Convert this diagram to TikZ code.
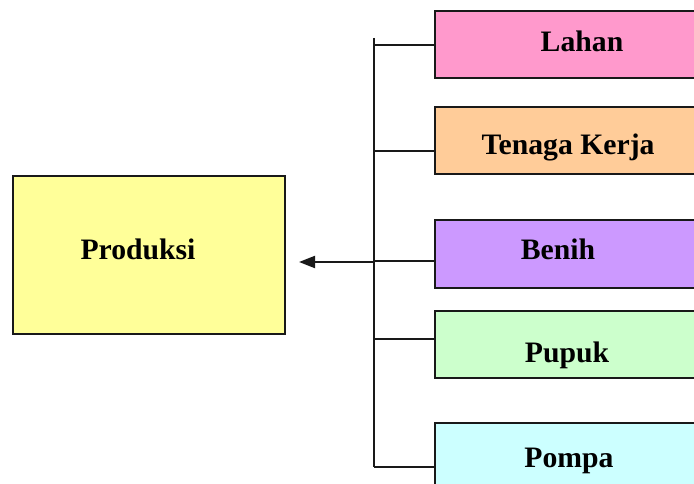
\documentclass[tikz,border=0pt]{standalone}
\usepackage{fontspec}
\setmainfont{Liberation Serif}
\usetikzlibrary{arrows.meta,calc}
\definecolor{cLahan}{HTML}{FF99CC}
\definecolor{cTenaga}{HTML}{FFCC99}
\definecolor{cBenih}{HTML}{CC99FF}
\definecolor{cPupuk}{HTML}{CCFFCC}
\definecolor{cPompa}{HTML}{CCFFFF}
\definecolor{cProd}{HTML}{FFFF99}
\tikzset{
  box/.style={draw=black!90, line width=2pt, rectangle, anchor=north west, inner sep=0pt},
  lbl/.style={anchor=base, inner sep=0pt, font=\fontsize{29.7}{34}\selectfont\bfseries},
  conn/.style={draw=black!90, line width=2pt},
}
\begin{document}
\begin{tikzpicture}[x=1pt,y=-1pt]
\useasboundingbox (0,0) rectangle (694,484);
\clip (0,0) rectangle (694,484);
\fill[white] (0,0) rectangle (694,484);
% boxes
\node[box, fill=cProd, minimum width=272pt, minimum height=158pt] (prod) at (12,175) {};
\node[box, fill=cLahan, minimum width=300pt, minimum height=67pt] (lahan) at (434,10) {};
\node[box, fill=cTenaga, minimum width=300pt, minimum height=67pt] (tenaga) at (434,106) {};
\node[box, fill=cBenih, minimum width=300pt, minimum height=68pt] (benih) at (434,219) {};
\node[box, fill=cPupuk, minimum width=300pt, minimum height=67pt] (pupuk) at (434,310) {};
\node[box, fill=cPompa, minimum width=300pt, minimum height=80pt] (pompa) at (434,422) {};
% labels
\node[lbl] (tprod) at (138,259) {Produksi};
\node[lbl] (tlahan) at (582,52) {Lahan};
\node[lbl] (ttenaga) at (568,155) {Tenaga Kerja};
\node[lbl] (tbenih) at (558,259) {Benih};
\node[lbl] (tpupuk) at (567,362) {Pupuk};
\node[lbl] (tpompa) at (569,467) {Pompa};
% trunk
\coordinate (top) at (374,38);
\coordinate (bot) at (374,467);
\coordinate (b1) at (374,45);
\coordinate (b2) at (374,151);
\coordinate (b3) at (374,261);
\coordinate (b4) at (374,339);
\coordinate (a0) at (374,262);
\coordinate (tip) at (299,262);
\draw[conn] (top) -- (bot);
\draw[conn] (b1) -- (b1 -| lahan.west);
\draw[conn] (b2) -- (b2 -| tenaga.west);
\draw[conn] (b3) -- (b3 -| benih.west);
\draw[conn] (b4) -- (b4 -| pupuk.west);
\draw[conn] (bot) -- (bot -| pompa.west);
\draw[conn, -{Triangle[length=16pt,width=12pt]}] (a0) -- (tip);
\end{tikzpicture}
\end{document}
